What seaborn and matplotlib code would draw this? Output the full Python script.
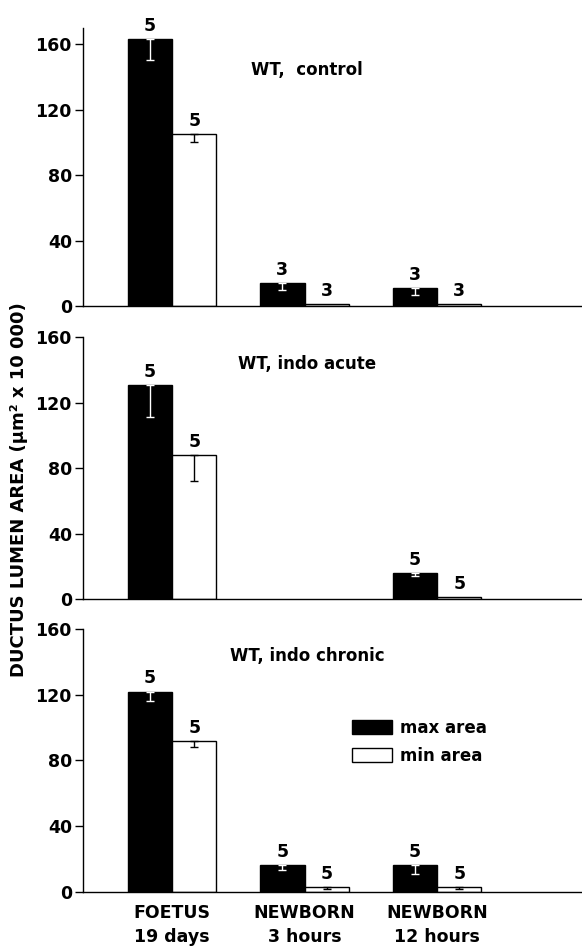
import numpy as np
import pandas as pd
import matplotlib
matplotlib.use('Agg')
import matplotlib.pyplot as plt
import seaborn as sns
from matplotlib.patches import Patch
from matplotlib.container import BarContainer

sns.set_style('ticks')
plt.rcParams['font.family'] = ['DejaVu Sans']
plt.rcParams['font.weight'] = 'bold'
for key in ['text.color', 'axes.labelcolor', 'xtick.color', 'ytick.color', 'axes.edgecolor']:
    plt.rcParams[key] = 'black'

# data
stages = ['FOETUS\n19 days', 'NEWBORN\n3 hours', 'NEWBORN\n12 hours']
areas = ['max area', 'min area']
panel_titles = ['WT,  control', 'WT, indo acute', 'WT, indo chronic']

control_max = [163, 14, 11]
control_min = [105, 1, 1]
control_max_err = [13, 4.5, 4.5]
control_min_err = [5, 0, 0]
control_n_max = [5, 3, 3]
control_n_min = [5, 3, 3]

acute_max = [131, np.nan, 16]
acute_min = [88, np.nan, 1]
acute_max_err = [20, 0, 2]
acute_min_err = [16, 0, 0]
acute_n_max = [5, None, 5]
acute_n_min = [5, None, 5]

chronic_max = [122, 16, 16]
chronic_min = [92, 3, 3]
chronic_max_err = [5.5, 2.5, 5]
chronic_min_err = [3.5, 1.5, 1.5]
chronic_n_max = [5, 5, 5]
chronic_n_min = [5, 5, 5]

panels = [
    (control_max, control_min, control_max_err, control_min_err, control_n_max, control_n_min, 170),
    (acute_max, acute_min, acute_max_err, acute_min_err, acute_n_max, acute_n_min, 160),
    (chronic_max, chronic_min, chronic_max_err, chronic_min_err, chronic_n_max, chronic_n_min, 160),
]

fig = plt.figure(figsize=(5.82, 9.46), dpi=100)
# axes rectangles [left, bottom, width, height] in figure fraction
rects = [
    [0.1426, 0.6765, 0.8574, 0.2943],
    [0.1426, 0.3668, 0.8574, 0.2766],
    [0.1426, 0.0574, 0.8574, 0.2774],
]
palette = {'max area': 'black', 'min area': 'white'}
err_colors = ['white', 'black']

for k, (vmax, vmin, emax, emin, nmax, nmin, ytop) in enumerate(panels):
    ax = fig.add_axes(rects[k])
    df = pd.DataFrame({
        'stage': stages * 2,
        'area': [areas[0]] * 3 + [areas[1]] * 3,
        'value': list(vmax) + list(vmin),
    })
    sns.barplot(data=df, x='stage', y='value', hue='area', order=stages,
                hue_order=areas, palette=palette, saturation=1, width=0.67,
                edgecolor='black', linewidth=1, errorbar=None, legend=False, ax=ax)

    errs = [emax, emin]
    ns = [nmax, nmin]
    bar_conts = [c for c in ax.containers if isinstance(c, BarContainer)]
    for h, cont in enumerate(bar_conts):
        for bar in list(cont.patches):
            if bar is None:
                continue
            height = bar.get_height()
            if not np.isfinite(height):
                continue
            xc = bar.get_x() + bar.get_width() / 2
            i = int(round(xc))
            e = errs[h][i]
            if e > 0:
                ax.errorbar(xc, height, yerr=[[e], [0]], fmt='none',
                            ecolor=err_colors[h], elinewidth=1, capsize=3, capthick=1)
            if ns[h][i] is not None:
                ax.annotate(str(ns[h][i]), (xc, height), xytext=(0, 9.5),
                            textcoords='offset points', ha='center', va='center',
                            fontsize=12.5, fontweight='bold')

    ax.text(1.02, 144, panel_titles[k], ha='center', va='center',
            fontsize=12, fontweight='bold')

    ax.set_ylim(0, ytop)
    ax.set_xlim(-0.672, 3.094)
    ax.set_yticks([0, 40, 80, 120, 160])
    ax.set_xlabel('')
    ax.set_ylabel('')
    sns.despine(ax=ax)
    ax.spines['left'].set_linewidth(1)
    ax.spines['bottom'].set_linewidth(1)
    ax.tick_params(axis='y', length=6, width=1, labelsize=12.5, pad=2)
    ax.tick_params(axis='x', length=0, labelsize=12.5, pad=9)
    for lab in ax.get_yticklabels() + ax.get_xticklabels():
        lab.set_fontweight('bold')
        lab.set_linespacing(1.45)
    if k < 2:
        ax.set_xticklabels([])
    else:
        handles = [Patch(facecolor='black', edgecolor='black', label='max area'),
                   Patch(facecolor='white', edgecolor='black', label='min area')]
        ax.legend(handles=handles, loc='upper left', bbox_to_anchor=(0.539, 0.658),
                  frameon=False, borderpad=0, borderaxespad=0, handlelength=2.4,
                  handleheight=0.95, handletextpad=0.5, labelspacing=0.6,
                  prop={'size': 12, 'weight': 'bold'})

fig.text(0.032, 0.482, 'DUCTUS LUMEN AREA (µm² x 10 000)', rotation=90,
         ha='center', va='center', fontsize=13, fontweight='bold')

fig.savefig('out.png', dpi=100)
